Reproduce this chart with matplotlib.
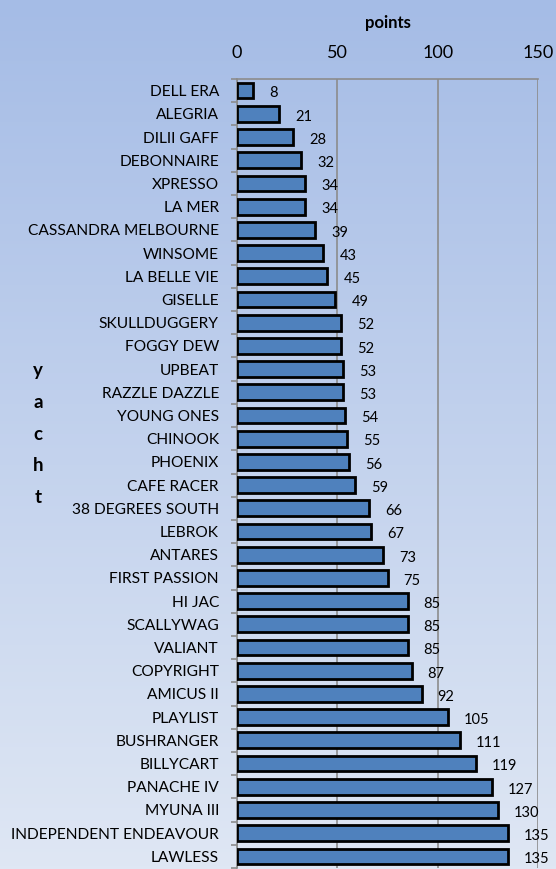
import numpy as np
import matplotlib
matplotlib.use('Agg')
import matplotlib.pyplot as plt
from matplotlib.colors import LinearSegmentedColormap

yachts = ["DELL ERA", "ALEGRIA", "DILII GAFF", "DEBONNAIRE", "XPRESSO", "LA MER",
          "CASSANDRA MELBOURNE", "WINSOME", "LA BELLE VIE", "GISELLE", "SKULLDUGGERY",
          "FOGGY DEW", "UPBEAT", "RAZZLE DAZZLE", "YOUNG ONES", "CHINOOK", "PHOENIX",
          "CAFE RACER", "38 DEGREES SOUTH", "LEBROK", "ANTARES", "FIRST PASSION",
          "HI JAC", "SCALLYWAG", "VALIANT", "COPYRIGHT", "AMICUS II", "PLAYLIST",
          "BUSHRANGER", "BILLYCART", "PANACHE IV", "MYUNA III", "INDEPENDENT ENDEAVOUR",
          "LAWLESS"]
points = [8, 21, 28, 32, 34, 34, 39, 43, 45, 49, 52, 52, 53, 53, 54, 55, 56, 59,
          66, 67, 73, 75, 85, 85, 85, 87, 92, 105, 111, 119, 127, 130, 135, 135]
x_ticks = [0, 50, 100, 150]

plt.rcParams['font.family'] = ['Lato', 'DejaVu Sans']

fig = plt.figure(figsize=(5.56, 8.69), dpi=100)

# gradient background
bg = fig.add_axes([0, 0, 1, 1], zorder=-10)
grad = LinearSegmentedColormap.from_list('bg', ['#a5bce6', '#dfe7f4'])
bg.imshow(np.linspace(0, 1, 256).reshape(-1, 1), aspect='auto', cmap=grad,
          extent=[0, 1, 0, 1])
bg.axis('off')

ax = fig.add_axes([237 / 556, 1 / 869, (538 - 237) / 556, (869 - 79 - 1) / 869])
ax.patch.set_alpha(0)

n = len(yachts)
ypos = np.arange(n)
ax.barh(ypos, points, height=0.68, color='#4f81bd', edgecolor='black', linewidth=2, zorder=3)
for y, v in zip(ypos, points):
    ax.text(v + 8, y + 0.12, str(v), va='center', ha='left', fontsize=10.5, color='black', zorder=4)

ax.set_ylim(n - 0.5, -0.5)
ax.set_xlim(0, 150)
ax.xaxis.tick_top()
ax.xaxis.set_label_position('top')
ax.set_xticks(x_ticks)
ax.tick_params(axis='x', length=0, labelsize=13, pad=13)
ax.set_xlabel('points', fontsize=12, fontweight='bold', labelpad=12)

ax.set_yticks(ypos)
ax.set_yticklabels(yachts, fontsize=11.2)
ax.tick_params(axis='y', length=0, pad=13)
ax.set_yticks(np.arange(n + 1) - 0.5, minor=True)
ax.tick_params(axis='y', which='minor', length=4, color='#8c8c8c', width=1.2)

ax.grid(axis='x', color='#8c8c8c', linewidth=1.2, zorder=0)
for s in ['left', 'top']:
    ax.spines[s].set_color('#8c8c8c')
    ax.spines[s].set_linewidth(1.2)
for s in ['right', 'bottom']:
    ax.spines[s].set_visible(False)

fig.text(38 / 556, 1 - 434 / 869, 'y\na\nc\nh\nt', ha='center', va='center',
         fontsize=13.5, fontweight='bold', linespacing=2.05)

fig.savefig('out.png', dpi=100)
